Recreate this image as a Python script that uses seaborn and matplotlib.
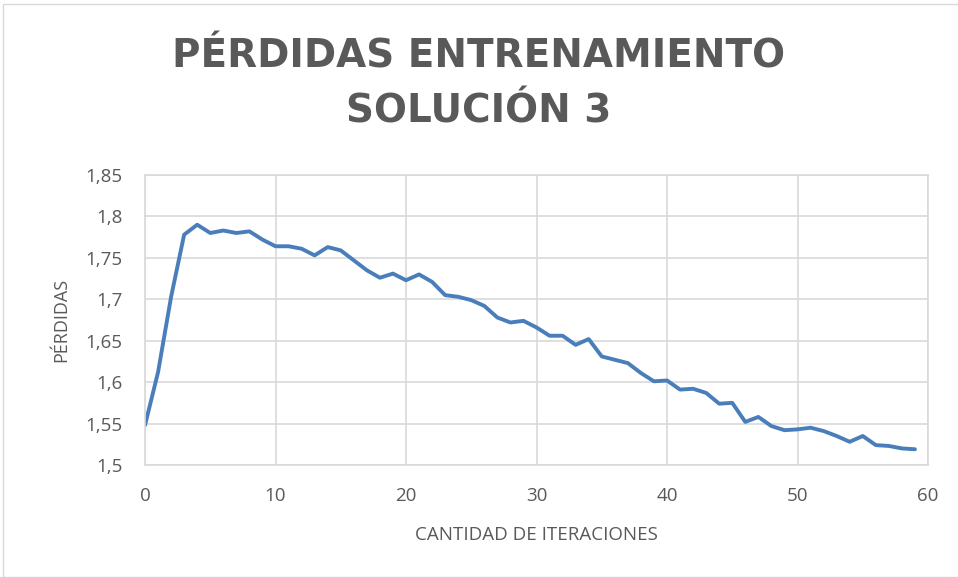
import matplotlib
matplotlib.use("Agg")
import matplotlib.pyplot as plt
import seaborn as sns
import pandas as pd
from matplotlib.patches import Rectangle

iterations = list(range(60))
losses = [1.548, 1.612, 1.703, 1.778, 1.790, 1.780, 1.783, 1.780, 1.782, 1.772,
          1.764, 1.764, 1.761, 1.753, 1.763, 1.759, 1.747, 1.735, 1.726, 1.731,
          1.723, 1.730, 1.721, 1.705, 1.703, 1.699, 1.692, 1.678, 1.672, 1.674,
          1.666, 1.656, 1.656, 1.645, 1.652, 1.631, 1.627, 1.623, 1.611, 1.601,
          1.602, 1.591, 1.592, 1.587, 1.574, 1.575, 1.552, 1.558, 1.547, 1.542,
          1.543, 1.545, 1.541, 1.535, 1.528, 1.535, 1.524, 1.523, 1.520, 1.519]
y_ticks = [1.5, 1.55, 1.6, 1.65, 1.7, 1.75, 1.8, 1.85]
y_tick_labels = ["1,5", "1,55", "1,6", "1,65", "1,7", "1,75", "1,8", "1,85"]
x_ticks = [0, 10, 20, 30, 40, 50, 60]
x_tick_labels = ["0", "10", "20", "30", "40", "50", "60"]
title = "PÉRDIDAS ENTRENAMIENTO\nSOLUCIÓN 3"
x_label = "CANTIDAD DE ITERACIONES"
y_label = "PÉRDIDAS"

df = pd.DataFrame({"iter": iterations, "loss": losses})

sns.set_theme(style="white")
plt.rcParams["font.family"] = ["Open Sans", "DejaVu Sans"]

fig = plt.figure(figsize=(9.58, 5.77), dpi=100)
ax = fig.add_axes([145/958, 1-465/577, (928-145)/958, (465-175)/577])

sns.lineplot(data=df, x="iter", y="loss", ax=ax, color="#4a7ebb", linewidth=2.8)

ax.set_xlim(0, 60)
ax.set_ylim(1.5, 1.85)
ax.set_xticks(x_ticks)
ax.set_xticklabels(x_tick_labels)
ax.set_yticks(y_ticks)
ax.set_yticklabels(y_tick_labels)
ax.grid(True, color="#d9d9d9", linewidth=1.2)
ax.set_axisbelow(True)
for s in ax.spines.values():
    s.set_color("#d9d9d9")
    s.set_linewidth(1.2)
ax.tick_params(axis="both", colors="#595959", labelsize=13.5, length=0)
ax.tick_params(axis="x", pad=16)
ax.tick_params(axis="y", pad=16)
ax.set_xlabel(x_label, color="#595959", fontsize=13.5, labelpad=15)
ax.set_ylabel(y_label, color="#595959", fontsize=13, labelpad=11)

fig.text(0.5, 1-84/577, title, ha="center", va="center", fontsize=28,
         fontweight="bold", color="#595959", linespacing=1.55,
         family=["DejaVu Sans"])

fig.patches.append(Rectangle((3/958, 0), 1, 1-4/577, transform=fig.transFigure,
                             fill=False, edgecolor="#d9d9d9", linewidth=1))

fig.savefig("out.png", dpi=100)
